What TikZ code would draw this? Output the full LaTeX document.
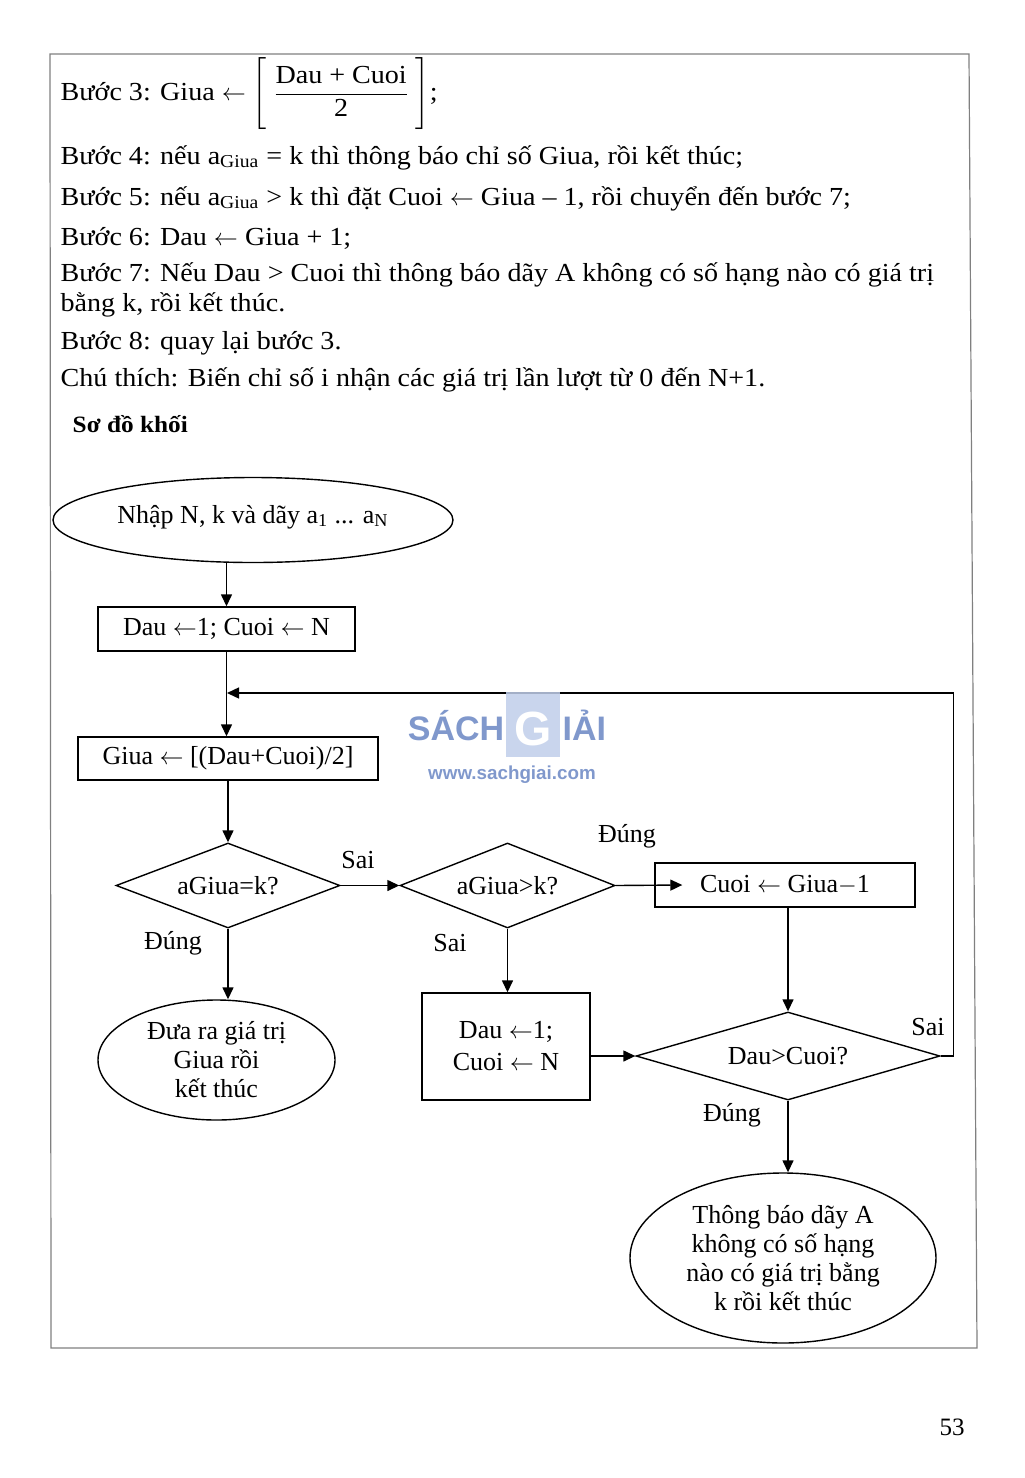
\documentclass[tikz,border=0pt]{standalone}
\usepackage{fontspec}
\setmainfont{Liberation Serif}
\setsansfont{Liberation Sans}
\newfontfamily\bodyfam[FakeStretch=1.08, Ligatures=TeX]{Liberation Serif}
\usepackage{amsmath}
\usetikzlibrary{shapes.geometric,arrows.meta,positioning}
\definecolor{wmblue}{RGB}{128,152,204}
\definecolor{wmfill}{RGB}{192,206,234}
\newcommand{\flowfont}{\fontsize{13}{14.5}\selectfont}
\newcommand{\bodyfont}{\bodyfam\fontsize{13}{15}\selectfont}
\tikzset{
	>={Triangle[length=6pt,width=5.5pt]},
	every node/.style={inner sep=0pt},
	proc/.style={draw, rectangle, align=center, font=\flowfont},
	test/.style={draw, diamond, font=\flowfont},
	term/.style={draw, ellipse, align=center, font=\flowfont},
	lbl/.style={font=\flowfont},
	txt/.style={anchor=base west, font=\bodyfont},
	flow/.style={->},
}

\begin{document}
\begin{tikzpicture}[x=0.5pt, y=-0.5pt, line width=0.7pt]
        \useasboundingbox (0,0) rectangle (1024,1478);
        % page frame
        \draw[gray, line width=0.6pt] (50,54) -- (969,54) -- (977,1348) -- (51,1348) -- cycle;

        % algorithm steps
        \node[txt] (s3) at (60,100) {Bước 3: Giua $\leftarrow \Biggl[\;\dfrac{\text{Dau + Cuoi}}{\text{2}}\;\Biggr]$;};
        \node[txt] (s4) at (60,164) {Bước 4: nếu a\textsubscript{Giua} = k thì thông báo chỉ số Giua, rồi kết thúc;};
        \node[txt] (s5) at (60,205) {Bước 5: nếu a\textsubscript{Giua} > k thì đặt Cuoi $\leftarrow$ Giua – 1, rồi chuyển đến bước 7;};
        \node[txt] (s6) at (60,245) {Bước 6: Dau $\leftarrow$ Giua + 1;};
        \node[txt] (s7) at (60,281) {Bước 7: Nếu Dau > Cuoi thì thông báo dãy A không có số hạng nào có giá trị};
        \node[txt] (s7b) at (60,311) {bằng k, rồi kết thúc.};
        \node[txt] (s8) at (60,349) {Bước 8: quay lại bước 3.};
        \node[txt] (note) at (60,386) {Chú thích: Biến chỉ số i nhận các giá trị lần lượt từ 0 đến N+1.};
        \node[txt, font=\bodyfam\bfseries\fontsize{11.7}{14}\selectfont] (title) at (72,432) {Sơ đồ khối};

        % flowchart
        \node[term, minimum width=200pt, minimum height=42.5pt] (input) at (253,520) {\raisebox{6pt}{Nhập N, k và dãy a\textsubscript{1} ... a\textsubscript{N}}};
        \node[proc, minimum width=128.5pt, minimum height=22pt] (init) at (226.5,629) {Dau $\leftarrow$1; Cuoi $\leftarrow$ N};
        \node[proc, minimum width=150pt, minimum height=21.5pt] (mid) at (228,758.5) {Giua $\leftarrow$ [(Dau+Cuoi)/2]};
        \node[test, aspect=2.6, minimum width=112pt, minimum height=42.5pt] (eq) at (228,885.5) {aGiua=k?};
        \node[test, aspect=2.5, minimum width=107.5pt, minimum height=42.5pt] (gt) at (507.5,885.5) {aGiua>k?};
        \node[proc, minimum width=130pt, minimum height=22pt] (dec) at (785,885) {Cuoi $\leftarrow$ Giua$-$1};
        \node[proc, minimum width=84pt, minimum height=53.5pt] (reset) at (506,1046.5) {Dau $\leftarrow$1;\\[1.5pt]Cuoi $\leftarrow$ N};
        \node[test, aspect=3.4, minimum width=152pt, minimum height=44pt] (cmp) at (788,1056) {Dau>Cuoi?};
        \node[term, minimum width=118.5pt, minimum height=60pt] (found) at (216.5,1060) {Đưa ra giá trị\\Giua rồi\\kết thúc};
        \node[term, minimum width=153pt, minimum height=85pt] (none) at (783,1258) {Thông báo dãy A\\không có số hạng\\nào có giá trị bằng\\k rồi kết thúc};
        \coordinate (back) at (227,693);

        \draw[flow] (init.north |- input.south) -- (init.north);
        \draw[flow] (init.south) -- (init.south |- mid.north);
        \draw[flow] (mid.south) -- (eq.north);
        \draw[flow] (eq.east) -- (gt.west);
        \draw[flow] (eq.south) -- (eq.south |- found.north);
        \draw[flow] (gt.east) -- ([xshift=14pt]dec.west);
        \draw[flow] (gt.south) -- (gt.south |- reset.north);
        \draw[flow] (cmp.north |- dec.south) -- (cmp.north);
        \draw[flow] (reset.east |- cmp.west) -- (cmp.west);
        \draw[flow] (cmp.east) -- ++(13,0) |- (back);
        \draw[flow] (cmp.south) -- (cmp.south |- none.north);

        % branch labels
        \node[lbl] (sai1) at (358,860) {Sai};
        \node[lbl] (dung1) at (627,836) {Đúng};
        \node[lbl] (dung2) at (173,943) {Đúng};
        \node[lbl] (sai2) at (450,943) {Sai};
        \node[lbl] (sai3) at (928,1027) {Sai};
        \node[lbl] (dung3) at (732,1115) {Đúng};

        % watermark
        \fill[wmfill, opacity=0.85] (506,692) rectangle (560,757);
        \node[font=\sffamily\bfseries\fontsize{17}{17}\selectfont, text=wmblue, anchor=base east] (wml) at (505,740) {SÁCH};
        \node[font=\sffamily\bfseries\fontsize{24}{24}\selectfont, text=white, anchor=base] (wmg) at (533,745) {G};
        \node[font=\sffamily\bfseries\fontsize{17}{17}\selectfont, text=wmblue, anchor=base west] (wmr) at (562,740) {IẢI};
        \node[font=\sffamily\bfseries\fontsize{9.4}{10}\selectfont, text=wmblue] (wmurl) at (512,775) {www.sachgiai.com};

        % page number
        \node[font=\fontsize{12.5}{14}\selectfont] (page) at (952,1427) {53};
    \end{tikzpicture}
\end{document}
